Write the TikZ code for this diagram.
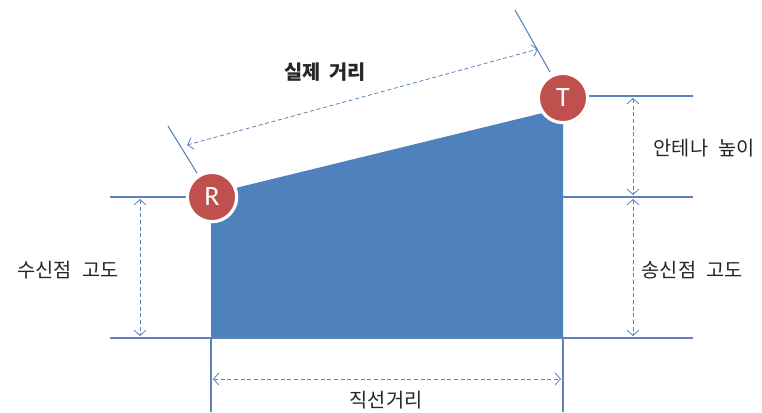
\documentclass[tikz,border=0pt]{standalone}
\usepackage{fontspec}
\setmainfont{Noto Sans CJK KR}
\newfontfamily\latinfont{Carlito}
\usetikzlibrary{arrows.meta,shadows}

\definecolor{areablue}{RGB}{79,129,189}
\definecolor{linecol}{RGB}{91,130,185}
\definecolor{sitered}{RGB}{192,80,77}

\newcommand{\gap}{\hspace{0.5em}}

\begin{document}
\begin{tikzpicture}[x=0.75pt,y=-0.75pt,
    guide/.style={draw=linecol,line width=0.8pt},
    dim/.style={draw=linecol,densely dashed,line width=0.6pt,
      {Straight Barb[length=4pt,width=9pt]}-{Straight Barb[length=4pt,width=9pt]}},
    site/.style={circle,fill=sitered,draw=white,line width=2.4pt,minimum size=37pt,
      inner sep=0pt,text=white,font=\latinfont\fontsize{21}{21}\selectfont,
      drop shadow={shadow xshift=0.8pt,shadow yshift=-1.2pt,opacity=0.35}},
    lbl/.style={font=\fontsize{14.8}{17}\selectfont,text=black!85}]
\useasboundingbox (0,0) rectangle (762,412);

% ground profile
\coordinate (bl) at (211,338);
\coordinate (br) at (563,338);
\coordinate (tr) at (563,108);
\coordinate (tl) at (211,194);
\fill[areablue] (bl) -- (br) -- (tr) -- (tl) -- cycle;

% extension lines
\draw[guide] (110,197) -- (211,197);
\draw[guide] (110,338) -- (693,338);
\draw[guide] (563,197) -- (693,197);
\draw[guide] (563,96) -- (693,96);
\draw[guide] (bl) -- (211,412);
\draw[guide] (br) -- (563,412);
\draw[guide] (168,126) -- (197,173);
\draw[guide] (515,10) -- (550,72);

% dimension arrows
\coordinate (slA) at (187,145);
\coordinate (slB) at (538,49);
\draw[dim] (slA) -- (slB);
\coordinate (rxA) at (140,199);
\coordinate (rxB) at (140,336);
\draw[dim] (rxA) -- (rxB);
\coordinate (antA) at (633,98);
\coordinate (antB) at (633,195);
\draw[dim] (antA) -- (antB);
\coordinate (txA) at (633,199);
\coordinate (txB) at (633,336);
\draw[dim] (txA) -- (txB);
\coordinate (gdA) at (213,379);
\coordinate (gdB) at (561,379);
\draw[dim] (gdA) -- (gdB);

% stations
\node[site] (rx) at (212,197) {R};
\node[site] (tx) at (563,98) {T};

% labels
\node[lbl,font=\bfseries\fontsize{14.8}{17}\selectfont] (real) at (325,72) {실제\hspace{0.2em} 거리};
\node[lbl] (rxalt) at (68,270) {수신점\gap 고도};
\node[lbl] (anth) at (704,148) {안테나\gap 높이};
\node[lbl] (txalt) at (692,270) {송신점\gap 고도};
\node[lbl] (ground) at (386,400) {직선거리};
\end{tikzpicture}
\end{document}
